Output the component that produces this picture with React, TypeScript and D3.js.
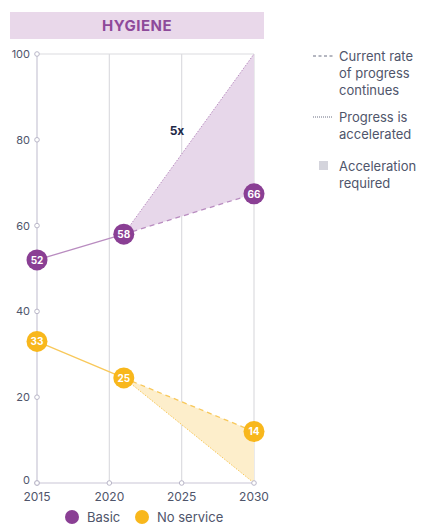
import React, { useEffect, useRef } from "react";
import * as d3 from "d3";

// data
const years = [2015, 2021, 2030];
const basicValues = [52, 58, 67.4];
const basicLabels = ["52", "58", "66"];
const basicTarget = 100;
const noServiceValues = [33, 24.5, 12];
const noServiceLabels = ["33", "25", "14"];
const noServiceTarget = 0;
const yTicks = [0, 20, 40, 60, 80, 100];
const xTicks = [2015, 2020, 2025, 2030];

const PURPLE = "#8a3f94";
const PURPLE_LINE = "#b98cc0";
const PURPLE_FILL = "#e7d7ea";
const YELLOW = "#f8b71c";
const YELLOW_LINE = "#f8c85a";
const YELLOW_FILL = "#fdeecb";
const TEXT = "#4f556b";
const FONT = "Inter, 'Noto Sans', sans-serif";

const App = () => {
  const ref = useRef<SVGSVGElement>(null);

  useEffect(() => {
    const svg = d3.select(ref.current);
    svg.selectAll("*").remove();

    const x = d3.scaleLinear().domain([2015, 2030]).range([37, 254]);
    const y = d3.scaleLinear().domain([0, 100]).range([483, 54]);

    // title band
    svg.append("rect").attr("x", 10).attr("y", 12).attr("width", 254).attr("height", 27).attr("fill", "#e9d8ea");
    svg.append("text").attr("x", 137).attr("y", 31).attr("text-anchor", "middle")
      .attr("font-family", FONT).attr("font-size", 15).attr("font-weight", 700).attr("letter-spacing", 0.5)
      .attr("fill", "#8e4a9a").text("HYGIENE");

    // grid
    xTicks.slice(1).forEach((t) => {
      svg.append("line").attr("x1", x(t)).attr("x2", x(t)).attr("y1", y(100)).attr("y2", y(0))
        .attr("stroke", "#dcdce0").attr("stroke-width", 1.2);
    });
    svg.append("line").attr("x1", x(2015)).attr("x2", x(2030)).attr("y1", y(100)).attr("y2", y(100))
      .attr("stroke", "#dcdce0").attr("stroke-width", 1.2);
    svg.append("line").attr("x1", x(2015)).attr("x2", x(2030)).attr("y1", y(0)).attr("y2", y(0))
      .attr("stroke", "#c9c6d6").attr("stroke-width", 1.2);
    svg.append("line").attr("x1", x(2015)).attr("x2", x(2015)).attr("y1", y(100)).attr("y2", y(0))
      .attr("stroke", "#c9c6d6").attr("stroke-width", 1.2);

    // series
    const drawSeries = (vals: number[], target: number, lineCol: string, fill: string) => {
      const p = years.map((yr, i) => [x(yr), y(vals[i])] as [number, number]);
      const tgt: [number, number] = [x(2030), y(target)];
      svg.append("path").attr("d", d3.line()([p[1], tgt, p[2]]) + "Z").attr("fill", fill);
      svg.append("path").attr("d", d3.line()([p[0], p[1]])).attr("stroke", lineCol).attr("stroke-width", 1.3).attr("fill", "none");
      svg.append("path").attr("d", d3.line()([p[1], p[2]])).attr("stroke", lineCol).attr("stroke-width", 1.3)
        .attr("stroke-dasharray", "5,4").attr("fill", "none");
      svg.append("path").attr("d", d3.line()([p[1], tgt])).attr("stroke", lineCol).attr("stroke-width", 1)
        .attr("stroke-dasharray", "1.5,1.5").attr("fill", "none");
      return p;
    };
    const bp = drawSeries(basicValues, basicTarget, PURPLE_LINE, PURPLE_FILL);
    const np = drawSeries(noServiceValues, noServiceTarget, YELLOW_LINE, YELLOW_FILL);

    // tick markers
    yTicks.forEach((t) => {
      svg.append("circle").attr("cx", x(2015)).attr("cy", y(t)).attr("r", 2.3)
        .attr("fill", "#fff").attr("stroke", "#b9b6c8").attr("stroke-width", 1);
      svg.append("text").attr("x", x(2015) - 7).attr("y", y(t) + (t === 0 ? 1 : 4)).attr("text-anchor", "end")
        .attr("font-family", FONT).attr("font-size", 11).attr("fill", TEXT).text(t);
    });
    xTicks.forEach((t) => {
      svg.append("circle").attr("cx", x(t)).attr("cy", y(0)).attr("r", 2.3)
        .attr("fill", "#fff").attr("stroke", "#b9b6c8").attr("stroke-width", 1);
      svg.append("text").attr("x", x(t)).attr("y", y(0) + 18).attr("text-anchor", "middle")
        .attr("font-family", FONT).attr("font-size", 12).attr("fill", TEXT).text(t);
    });

    // point markers
    const dots = (p: [number, number][], labels: string[], color: string) => {
      p.forEach((pt, i) => {
        svg.append("circle").attr("cx", pt[0]).attr("cy", pt[1]).attr("r", 10.5).attr("fill", color);
        svg.append("text").attr("x", pt[0]).attr("y", pt[1] + 3.8).attr("text-anchor", "middle")
          .attr("font-family", FONT).attr("font-size", 10).attr("font-weight", 700).attr("fill", "#fff").text(labels[i]);
      });
    };
    dots(bp, basicLabels, PURPLE);
    dots(np, noServiceLabels, YELLOW);

    svg.append("text").attr("x", 177).attr("y", 135).attr("text-anchor", "middle")
      .attr("font-family", FONT).attr("font-size", 12).attr("font-weight", 700).attr("fill", "#1e2a48").text("5x");

    // bottom legend
    [[72, PURPLE, "Basic"], [142, YELLOW, "No service"]].forEach(([cx, c, t]) => {
      svg.append("circle").attr("cx", cx as number).attr("cy", 517).attr("r", 7).attr("fill", c as string);
      svg.append("text").attr("x", (cx as number) + 15).attr("y", 522)
        .attr("font-family", FONT).attr("font-size", 13).attr("fill", TEXT).text(t as string);
    });

    // right legend
    const leg = svg.append("g").attr("font-family", FONT).attr("font-size", 13).attr("fill", TEXT);
    const lines = (y0: number, rows: string[]) => rows.forEach((r, i) =>
      leg.append("text").attr("x", 339).attr("y", y0 + i * 17).text(r));
    leg.append("line").attr("x1", 313).attr("x2", 333).attr("y1", 56).attr("y2", 56)
      .attr("stroke", "#6a6f82").attr("stroke-width", 1).attr("stroke-dasharray", "3,2.5");
    lines(61, ["Current rate", "of progress", "continues"]);
    leg.append("line").attr("x1", 313).attr("x2", 333).attr("y1", 117).attr("y2", 117)
      .attr("stroke", "#6a6f82").attr("stroke-width", 1).attr("stroke-dasharray", "1,1");
    lines(122, ["Progress is", "accelerated"]);
    leg.append("rect").attr("x", 319).attr("y", 161).attr("width", 9).attr("height", 9).attr("fill", "#d4d4dc");
    lines(171, ["Acceleration", "required"]);
  }, []);

  return <svg ref={ref} width={423} height={525} style={{ position: "absolute", left: 0, top: 0 }}></svg>;
};

export default App;
